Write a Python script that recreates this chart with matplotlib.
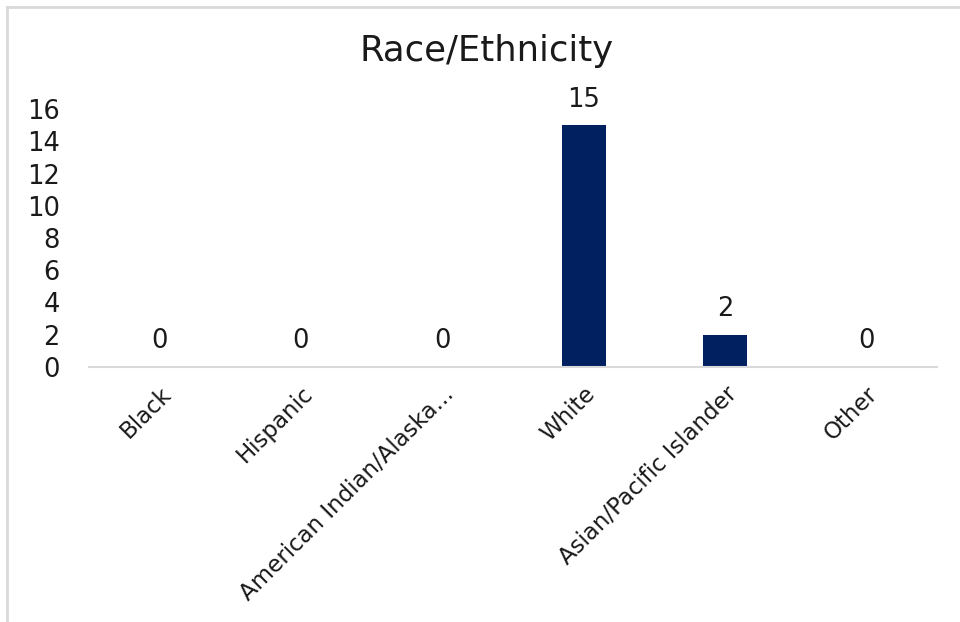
import matplotlib.pyplot as plt
import numpy as np

categories = ['Black', 'Hispanic', 'American Indian/Alaska...', 'White',
              'Asian/Pacific Islander', 'Other']
counts = [0, 0, 0, 15, 2, 0]
yticks = [0, 2, 4, 6, 8, 10, 12, 14, 16]

bar_color = '#002060'
text_color = '#1a1a1a'
line_gray = '#d9d9d9'

fig = plt.figure(figsize=(9.6, 6.22), dpi=100)
ax = fig.add_axes([89 / 960, 1 - 367 / 622, 848 / 960, 258 / 622])

x = np.arange(len(categories))
bars = ax.bar(x, counts, width=0.31, color=bar_color, zorder=2)

ax.set_xlim(-0.5, len(categories) - 0.5)
ax.set_ylim(0, 16)
ax.set_yticks(yticks)
ax.set_yticklabels([str(t) for t in yticks], fontsize=18.5, color=text_color)
ax.tick_params(axis='y', length=0, pad=21)
ax.set_xticks(x)
ax.set_xticklabels(categories, rotation=45, ha='right', rotation_mode='anchor',
                   fontsize=16.5, color=text_color)
ax.tick_params(axis='x', length=0, pad=11)

for side in ['top', 'right', 'left']:
    ax.spines[side].set_visible(False)
ax.spines['bottom'].set_color(line_gray)
ax.spines['bottom'].set_linewidth(1.5)

# value labels above each bar
for xi, v in zip(x, counts):
    ax.annotate(str(v), (xi, v), xytext=(0, 9), textcoords='offset points',
                ha='center', va='bottom', fontsize=18.5, color=text_color)

fig.text(487 / 960, 1 - 51 / 622, 'Race/Ethnicity', ha='center', va='center',
         fontsize=25.5, color=text_color)

# chart frame (left and top edges only)
fig.add_artist(plt.Line2D([7 / 960, 7 / 960], [0, 1 - 7 / 622],
                          transform=fig.transFigure, color=line_gray, lw=2))
fig.add_artist(plt.Line2D([7 / 960, 1], [1 - 7 / 622, 1 - 7 / 622],
                          transform=fig.transFigure, color=line_gray, lw=2))

fig.savefig('out.png', dpi=100)
